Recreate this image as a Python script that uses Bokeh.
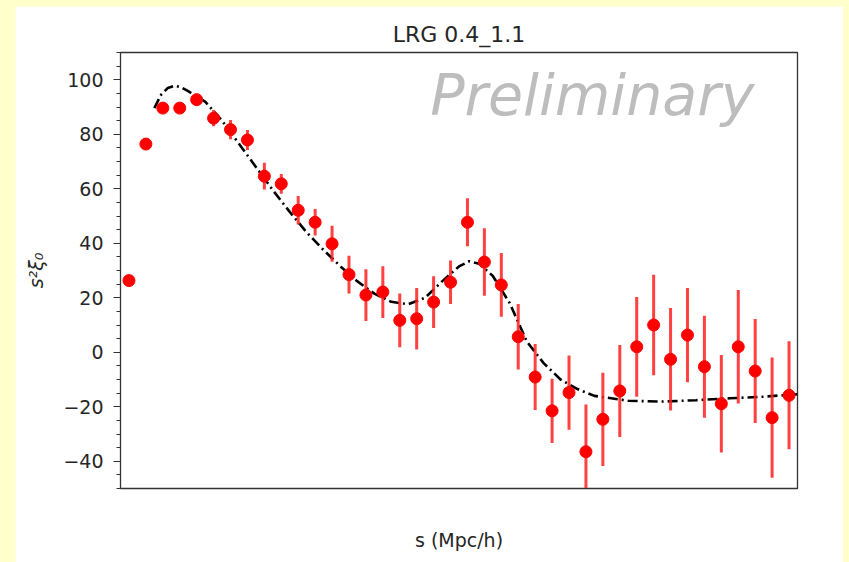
from bokeh.plotting import figure
from bokeh.layouts import column
from bokeh.models import ColumnDataSource, SingleIntervalTicker, FixedTicker, Label
from bokeh.embed import file_html
from bokeh.resources import INLINE

# ---- data ----
s_data = [2.5 + 5 * i for i in range(40)]
xi_data = [26.3, 76.4, 89.6, 89.6, 92.7, 85.9, 81.7, 77.9, 64.6, 61.8,
           52.1, 47.7, 39.8, 28.5, 21.0, 22.1, 11.7, 12.3, 18.4, 25.7,
           47.7, 33.1, 24.7, 5.7, -9.1, -21.5, -14.8, -36.5, -24.6, -14.2,
           2.0, 10.0, -2.6, 6.3, -5.3, -18.9, 2.0, -6.9, -24.0, -15.8]
err_data = [1.0, 1.2, 1.5, 1.8, 2.2, 3.0, 3.5, 3.7, 4.9, 3.6,
            5.2, 4.9, 6.6, 6.9, 9.5, 9.5, 9.9, 11.3, 9.5, 8.0,
            8.8, 12.4, 11.7, 12.0, 12.1, 11.8, 13.6, 17.3, 17.1, 16.9,
            18.3, 18.4, 18.8, 17.3, 18.7, 17.9, 20.8, 19.1, 22.1, 19.8]

s_model = [10, 12, 14, 16, 18, 20, 25, 30, 35, 40, 45, 50, 55, 60, 65, 70,
           75, 80, 85, 90, 95, 100, 103, 106, 110, 115, 120, 125, 130, 135,
           140, 150, 160, 170, 180, 190, 200]
xi_model = [89.6, 94.5, 97.0, 97.8, 97.2, 95.8, 92.0, 85.0, 76.5, 68.0, 59.5,
            51.5, 44.0, 37.5, 31.5, 26.0, 21.5, 18.5, 17.6, 20.0, 26.0, 31.5,
            33.4, 32.5, 28.0, 18.0, 4.0, -4.0, -10.0, -13.5, -16.0, -17.8,
            -18.1, -17.6, -16.9, -16.3, -15.4]

title_text = "LRG 0.4_1.1"
x_label = "s (Mpc/h)"
y_label = "s\u00b2\u03be\u2080"
watermark = "Preliminary"

src = ColumnDataSource(dict(
    s=s_data, xi=xi_data,
    lo=[v - e for v, e in zip(xi_data, err_data)],
    hi=[v + e for v, e in zip(xi_data, err_data)],
))

FONT = "DejaVu Sans"
TXT = "#262626"

p = figure(width=828, height=556, x_range=(0, 200), y_range=(-50, 110),
           output_backend="svg", toolbar_location=None,
           min_border_left=105, min_border_right=46, min_border_top=46,
           min_border_bottom=74, margin=(6, 6, 0, 15),
           background_fill_color="white", border_fill_color="white")

p.title.text = title_text
p.title.align = "center"
p.title.text_font = FONT
p.title.text_font_size = "22px"
p.title.text_font_style = "normal"
p.title.text_color = TXT
p.title.standoff = 11

p.grid.visible = False
p.outline_line_color = "#333333"
p.outline_line_width = 1.3

# y axis
yax = p.yaxis[0]
yax.ticker = SingleIntervalTicker(interval=20, num_minor_ticks=4)
yax.major_tick_out = 7
yax.major_tick_in = 0
yax.minor_tick_out = 4
yax.minor_tick_in = 0
yax.major_label_text_font = FONT
yax.major_label_text_font_size = "19px"
yax.major_label_text_color = TXT
yax.major_label_standoff = 10
yax.axis_label = y_label
yax.axis_label_text_font = FONT
yax.axis_label_text_font_size = "19px"
yax.axis_label_text_font_style = "italic"
yax.axis_label_text_color = TXT
yax.axis_label_standoff = 13
yax.axis_line_color = "#333333"
yax.major_tick_line_color = "#333333"
yax.minor_tick_line_color = "#333333"

# x axis (no ticks)
xax = p.xaxis[0]
xax.ticker = FixedTicker(ticks=[])
xax.major_tick_out = 0
xax.minor_tick_out = 0
xax.axis_label = x_label
xax.axis_label_text_font = FONT
xax.axis_label_text_font_size = "19px"
xax.axis_label_text_font_style = "normal"
xax.axis_label_text_color = TXT
xax.axis_label_standoff = 40
xax.axis_line_color = "#333333"

# model curve
p.line(s_model, xi_model, line_color="black", line_width=2.6, line_dash="10 4 2 4")

# data with error bars
p.segment(x0="s", y0="lo", x1="s", y1="hi", source=src, line_color="#ff2020",
          line_alpha=0.85, line_width=3)
p.scatter(x="s", y="xi", source=src, size=12, fill_color="#ff0000",
          line_color="#ff0000")

# watermark
p.add_layout(Label(x=91.5, y=94.5, text=watermark, text_font=FONT,
                   text_font_size="57px", text_font_style="italic",
                   text_color="#bdbdbd", text_baseline="alphabetic",
                   text_align="left"))

lay = column(p, width=849, height=562, styles={"background-color": "#FFFFCC"})

open("out.html", "w").write(file_html(lay, INLINE))
